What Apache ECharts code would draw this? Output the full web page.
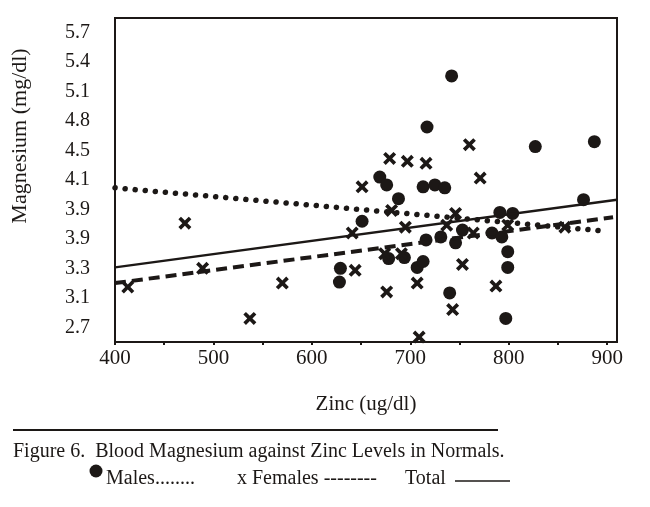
<!DOCTYPE html>
<html>
<head>
	<meta charset="utf-8" />
	<title>Figure 6</title>
	<script src="https://cdn.jsdelivr.net/npm/echarts@6/dist/echarts.min.js"></script>
	<style>
		html, body { margin: 0; padding: 0; background: #fff; }
		#chart { width: 650px; height: 507px; }
	</style>
</head>
<body>
	<div id="chart"></div>
	<script type="text/javascript">
		// printed tick labels (the scan has misprints, kept as printed)
		var yTickValues = [2.7, 3.0, 3.3, 3.6, 3.9, 4.2, 4.5, 4.8, 5.1, 5.4, 5.7];
		var yTickLabels = ['2.7', '3.1', '3.3', '3.9', '3.9', '4.1', '4.5', '4.8', '5.1', '5.4', '5.7'];
		var xTickLabels = [400, 500, 600, 700, 800, 900];

		// zinc (ug/dl), magnesium (mg/dl)
		var males = [
			[742, 5.26], [717, 4.74], [827, 4.54], [887, 4.59], [669, 4.23],
			[676, 4.15], [688, 4.01], [713, 4.13], [725, 4.15], [735, 4.12],
			[651, 3.78], [876, 4.00], [791, 3.87], [804, 3.86], [753, 3.69],
			[746, 3.56], [783, 3.66], [793, 3.62], [799, 3.47], [799, 3.31],
			[797, 2.79], [629, 3.30], [628, 3.16], [707, 3.31], [713, 3.37],
			[740, 3.05], [716, 3.59], [731, 3.62], [678, 3.40], [694, 3.41]
		];
		var females = [
			[471, 3.76], [489, 3.30], [413, 3.11], [537, 2.79], [570, 3.15],
			[760, 4.56], [771, 4.22], [679, 4.42], [697, 4.39], [716, 4.37],
			[651, 4.13], [681, 3.89], [641, 3.66], [695, 3.72], [746, 3.86],
			[737, 3.74], [764, 3.66], [857, 3.72], [799, 3.74], [644, 3.28],
			[676, 3.06], [707, 3.15], [709, 2.60], [743, 2.88], [753, 3.34],
			[787, 3.12], [674, 3.45], [691, 3.45]
		];
		var maleLine = [[400, 4.12], [898, 3.68]];
		var femaleLine = [[400, 3.15], [906, 3.82]];
		var totalLine = [[400, 3.31], [910, 4.00]];

		var ink = '#1c1816';
		var serif = '"Liberation Serif", "DejaVu Serif", serif';
		var crossPath = 'path://M0,2 L2,0 L5,3 L8,0 L10,2 L7,5 L10,8 L8,10 L5,7 L2,10 L0,8 L3,5 Z';

		var chart = echarts.init(document.getElementById('chart'), null, { renderer: 'canvas' });
		var option = {
			backgroundColor: '#fff',
			animation: false,
			grid: {
				left: 115,
				right: 33,
				top: 18,
				bottom: 165,
				show: true,
				borderColor: ink,
				borderWidth: 2
			},
			xAxis: {
				type: 'value',
				min: 400,
				max: 910,
				interval: 50,
				name: 'Zinc (ug/dl)',
				nameLocation: 'middle',
				nameGap: 52,
				nameTextStyle: { fontFamily: serif, fontSize: 21, color: ink },
				axisLine: { lineStyle: { color: ink, width: 2 } },
				axisTick: { show: true, length: 3, lineStyle: { color: ink, width: 2 } },
				splitLine: { show: false },
				axisLabel: {
					margin: 6,
					fontFamily: serif,
					fontSize: 21,
					color: ink,
					showMaxLabel: false,
					formatter: function (v) {
						return xTickLabels.indexOf(Math.round(v)) >= 0 ? String(Math.round(v)) : '';
					}
				}
			},
			yAxis: {
				type: 'value',
				min: 2.55,
				max: 5.85,
				interval: 0.15,
				axisLine: { lineStyle: { color: ink, width: 2 } },
				axisTick: { show: false },
				splitLine: { show: false },
				axisLabel: {
					margin: 25,
					fontFamily: serif,
					fontSize: 20,
					color: ink,
					showMinLabel: false,
					showMaxLabel: false,
					formatter: function (v) {
						for (var i = 0; i < yTickValues.length; i++) {
							if (Math.abs(yTickValues[i] - v) < 0.001) return yTickLabels[i];
						}
						return '';
					}
				}
			},
			series: [
				{
					name: 'Males',
					type: 'line',
					data: maleLine,
					symbol: 'none',
					silent: true,
					lineStyle: { color: ink, width: 5.5, type: [0.1, 10], cap: 'round', opacity: 1 }
				},
				{
					name: 'Females',
					type: 'line',
					data: femaleLine,
					symbol: 'none',
					silent: true,
					lineStyle: { color: ink, width: 4, type: [11, 6], opacity: 1 }
				},
				{
					name: 'Total',
					type: 'line',
					data: totalLine,
					symbol: 'none',
					silent: true,
					lineStyle: { color: ink, width: 2.5, type: 'solid', opacity: 1 }
				},
				{
					name: 'Males',
					type: 'scatter',
					data: males,
					symbol: 'circle',
					symbolSize: 13,
					itemStyle: { color: ink, opacity: 1 }
				},
				{
					name: 'Females',
					type: 'scatter',
					data: females,
					symbol: crossPath,
					symbolSize: 13,
					itemStyle: { color: ink, opacity: 1 }
				}
			],
			graphic: [
				{
					type: 'text',
					x: 20,
					y: 136,
					rotation: Math.PI / 2,
					style: {
						text: 'Magnesium (mg/dl)',
						fontFamily: serif,
						fontSize: 22,
						fill: ink,
						textAlign: 'center',
						textVerticalAlign: 'middle'
					}
				},
				{
					type: 'line',
					shape: { x1: 13, y1: 430, x2: 498, y2: 430 },
					style: { stroke: ink, lineWidth: 2 }
				},
				{
					type: 'text',
					x: 13,
					y: 452,
					style: {
						text: 'Figure 6.  Blood Magnesium against Zinc Levels in Normals.',
						fontFamily: serif,
						fontSize: 20,
						fill: ink,
						textVerticalAlign: 'middle'
					}
				},
				{
					type: 'circle',
					shape: { cx: 96, cy: 471, r: 6.5 },
					style: { fill: ink }
				},
				{
					type: 'text',
					x: 106,
					y: 479,
					style: {
						text: 'Males........',
						fontFamily: serif,
						fontSize: 20,
						fill: ink,
						textVerticalAlign: 'middle'
					}
				},
				{
					type: 'text',
					x: 237,
					y: 479,
					style: {
						text: 'x Females --------',
						fontFamily: serif,
						fontSize: 20,
						fill: ink,
						textVerticalAlign: 'middle'
					}
				},
				{
					type: 'text',
					x: 405,
					y: 479,
					style: {
						text: 'Total',
						fontFamily: serif,
						fontSize: 20,
						fill: ink,
						textVerticalAlign: 'middle'
					}
				},
				{
					type: 'line',
					shape: { x1: 455, y1: 481, x2: 510, y2: 481 },
					style: { stroke: ink, lineWidth: 1.5 }
				}
			]
		};
		chart.setOption(option);
	</script>
</body>
</html>
